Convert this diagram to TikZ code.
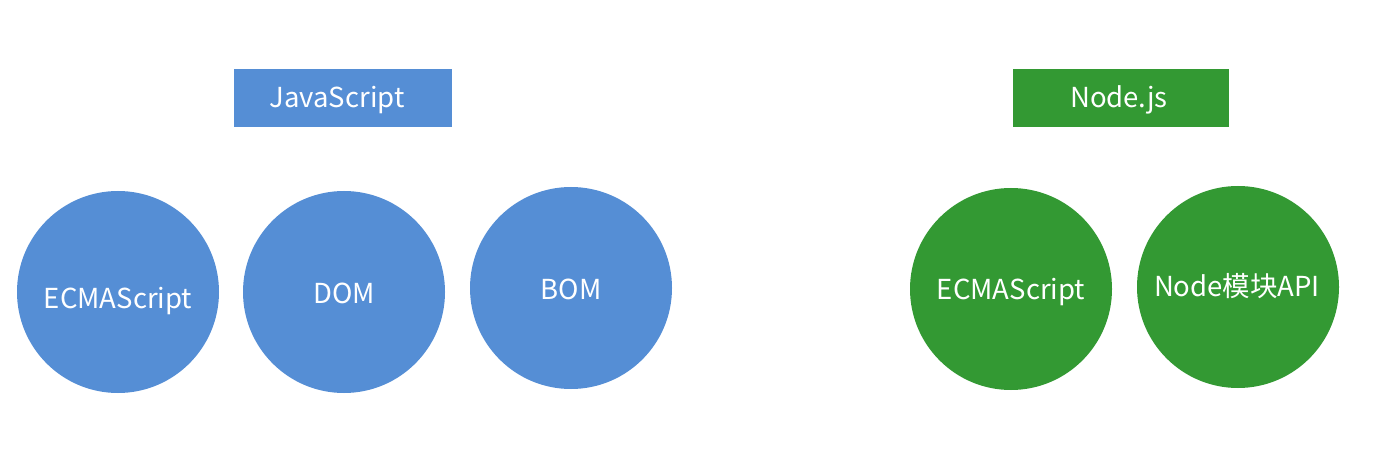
\documentclass[tikz,border=0pt]{standalone}
\usepackage{fontspec}
\setmainfont{Noto Sans CJK SC}
\definecolor{jsblue}{HTML}{558ED5}
\definecolor{ndgreen}{HTML}{339933}
\begin{document}
\begin{tikzpicture}[x=1pt,y=-1pt,
  lbl/.style={font=\fontsize{27.5}{32}\selectfont, text=white, inner sep=0pt, text height=0.72em, text depth=0pt, yshift=-7pt},
  hdr/.style={minimum width=218pt, minimum height=58pt, inner sep=0pt},
  ball/.style={circle, minimum size=202pt, inner sep=0pt}]
\useasboundingbox (0,0) rectangle (1394,454);
\node[hdr, fill=jsblue] (js) at (343,98) {};
\node[hdr, fill=ndgreen, minimum width=216pt] (nd) at (1121,98) {};
\node[ball, fill=jsblue] (ecma1) at (118,292) {};
\node[ball, fill=jsblue] (dom) at (344,292) {};
\node[ball, fill=jsblue] (bom) at (571,288) {};
\node[ball, fill=ndgreen] (ecma2) at (1011,289) {};
\node[ball, fill=ndgreen] (api) at (1238,287) {};
\node[lbl] (tjs) at (337,97) {JavaScript};
\node[lbl] (tnd) at (1119,97) {Node.js};
\node[lbl] (te1) at (118,298) {ECMAScript};
\node[lbl] (tdom) at (344,293) {DOM};
\node[lbl] (tbom) at (571,289) {BOM};
\node[lbl] (te2) at (1011,289) {ECMAScript};
\node[lbl] (tapi) at (1237,286) {Node模块API};
\end{tikzpicture}
\end{document}
